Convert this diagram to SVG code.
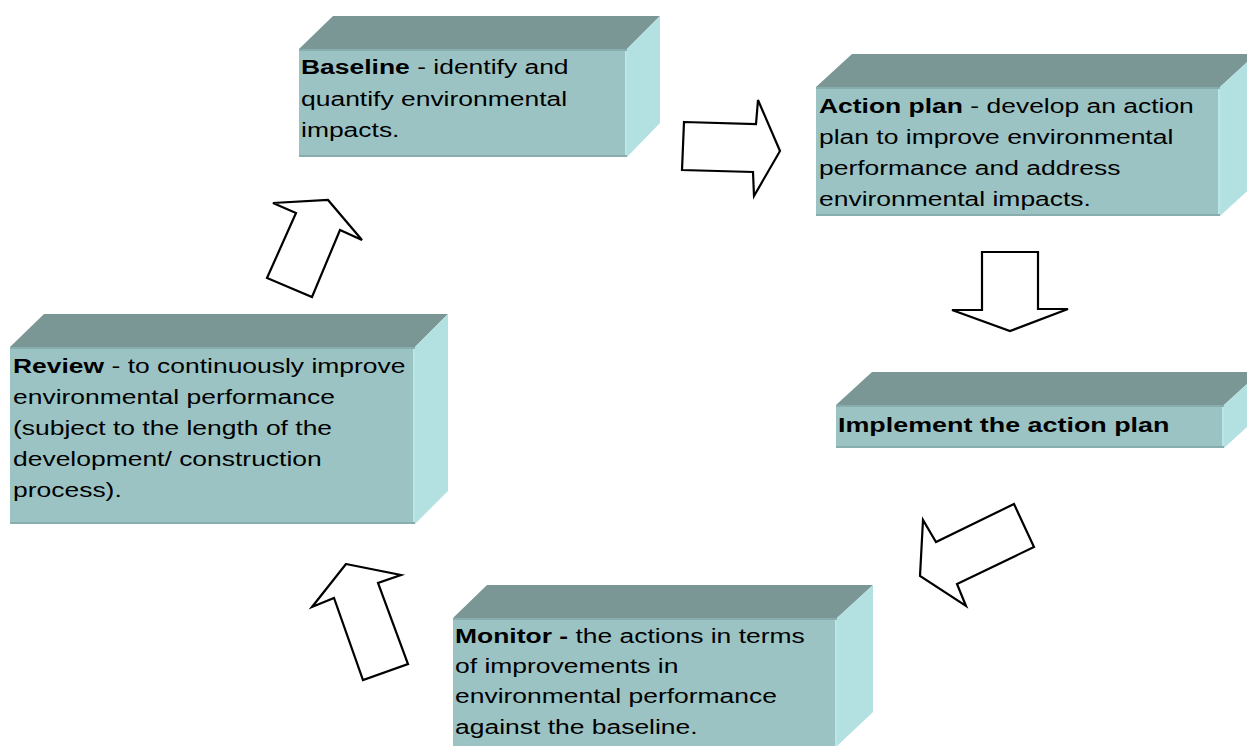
<svg xmlns="http://www.w3.org/2000/svg" width="1247" height="746" viewBox="0 0 1247 746">
<style>
.top{fill:#7A9695}
.front{fill:#9CC3C4}
.side{fill:#B3E0E1}
.edge{stroke:#88ADAE;stroke-width:2;fill:none}
.hl{stroke:#B9E6E6;stroke-width:2;fill:none}
text{font-family:"Liberation Sans",Arial,sans-serif;font-size:21px;fill:#000}
.b{font-weight:bold}
.arrow{fill:#fff;stroke:#000;stroke-width:2.2;stroke-linejoin:miter}
</style>
<rect width="1247" height="746" fill="#fff"/>
<g id="baseline">
<polygon class="top" points="299,49 333,16 660,16 627,49"/>
<polygon class="side" points="627,49 660,16 660,123 627,157"/>
<rect class="front" x="299" y="49" width="328" height="108"/>
<path class="edge" d="M299,50H627M299,156H627"/>
<path class="hl" d="M626,51V155"/>
<text transform="translate(301 74) scale(1.26 1)"><tspan class="b">Baseline</tspan> - identify and<tspan x="0" dy="32">quantify environmental</tspan><tspan x="0" dy="31">impacts.</tspan></text>
</g>
<g id="action-plan">
<polygon class="top" points="816,87 852,54 1256,54 1220,87"/>
<polygon class="side" points="1220,87 1256,54 1256,183 1220,216"/>
<rect class="front" x="816" y="87" width="404" height="129"/>
<path class="edge" d="M816,88H1220M816,215H1220"/>
<path class="hl" d="M1219,89V214"/>
<text transform="translate(819 113) scale(1.26 1)"><tspan class="b">Action plan</tspan> - develop an action<tspan x="0" dy="31">plan to improve environmental</tspan><tspan x="0" dy="31">performance and address</tspan><tspan x="0" dy="31">environmental impacts.</tspan></text>
</g>
<g id="implement">
<polygon class="top" points="836,405 872,372 1260,372 1224,405"/>
<polygon class="side" points="1224,405 1260,372 1260,415 1224,448"/>
<rect class="front" x="836" y="405" width="388" height="43"/>
<path class="edge" d="M836,406H1224M836,447H1224"/>
<path class="hl" d="M1223,407V446"/>
<text class="b" transform="translate(838 432) scale(1.28 1)">Implement the action plan</text>
</g>
<g id="monitor">
<polygon class="top" points="453,618 487,585 873,585 837,618"/>
<polygon class="side" points="837,618 873,585 873,712 837,746"/>
<rect class="front" x="453" y="618" width="384" height="130"/>
<path class="edge" d="M453,619H837"/>
<path class="hl" d="M836,620V746"/>
<text transform="translate(455 643) scale(1.26 1)"><tspan class="b">Monitor -</tspan> the actions in terms<tspan x="0" dy="30">of improvements in</tspan><tspan x="0" dy="30">environmental performance</tspan><tspan x="0" dy="31">against the baseline.</tspan></text>
</g>
<g id="review">
<polygon class="top" points="10,347 44,314 448,314 415,347"/>
<polygon class="side" points="415,347 448,314 448,491 415,524"/>
<rect class="front" x="10" y="347" width="405" height="177"/>
<path class="edge" d="M10,348H415M10,523H415"/>
<path class="hl" d="M414,349V522"/>
<text transform="translate(13 373) scale(1.26 1)"><tspan class="b">Review</tspan> - to continuously improve<tspan x="0" dy="31">environmental performance</tspan><tspan x="0" dy="31">(subject to the length of the</tspan><tspan x="0" dy="31">development/ construction</tspan><tspan x="0" dy="31">process).</tspan></text>
</g>
<g id="connectors">
<polygon class="arrow" points="684,122 756,124 758,100 780,151 754,196 753,172 682,170"/>
<polygon class="arrow" points="982,252 1038,252 1038,309 1068,309 1010,331 952,310 982,310"/>
<polygon class="arrow" points="1014,504 1034,547 957,584 966,606 920,576 923,520 936,542"/>
<polygon class="arrow" points="273,203 328,200 362,240 340,230 312,297 267,278 296,213"/>
<polygon class="arrow" points="346,564 401,575 378,583 408,664 363,680 334,598 312,607"/>
</g>
</svg>
